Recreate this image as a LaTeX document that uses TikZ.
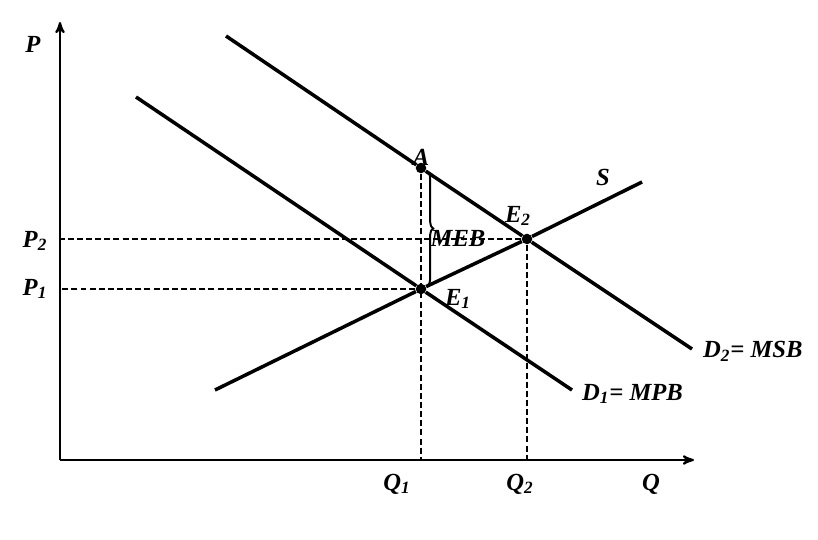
\documentclass[tikz,border=0pt]{standalone}
\usepackage{fontspec}
\setmainfont{Liberation Serif}
\usetikzlibrary{arrows,calc,decorations.pathreplacing}

\begin{document}
\begin{tikzpicture}[x=0.02cm,y=-0.02cm,>=stealth',
    curve/.style={line width=2pt},
    guide/.style={line width=0.6pt,dash pattern=on 3.4pt off 1.8pt},
    lbl/.style={font=\fontsize{14}{16}\selectfont\bfseries\itshape,inner sep=1pt},
    dot/.style={circle,fill=black,inner sep=0pt,minimum size=6pt}]
    \useasboundingbox (0,0) rectangle (818,540);
    \coordinate (O) at (60,460);
    \coordinate (ytop) at (60,22);
    \coordinate (xend) at (694,460);
    \draw[line width=1.2pt,->] (O) -- (ytop);
    \draw[line width=1.2pt,->] (O) -- (xend);
    % points
    \node[dot] (E1) at (421,289) {};
    \node[dot] (E2) at (527,239) {};
    \node[dot] (A) at (421,168) {};
    \coordinate (D1a) at (136,97);
    \coordinate (D1b) at (572,390);
    \coordinate (D2a) at (226,36);
    \coordinate (D2b) at (692,349);
    \coordinate (Sa) at (215,390);
    \coordinate (Sb) at (642,182);
    % guides
    \draw[guide] (A) -- (A |- O);
    \draw[guide] (E2) -- (E2 |- O);
    \draw[guide] (E1) -- (E1 -| O);
    \draw[guide] (E2) -- (E2 -| O);
    % curves
    \draw[curve] (D1a) -- (E1) -- (D1b);
    \draw[curve] (D2a) -- (A) -- (E2) -- (D2b);
    \draw[curve] (Sa) -- (E1) -- (E2) -- (Sb);
    \draw[line width=1.1pt,decorate,decoration={brace,amplitude=3.6pt}] ($(A)+(6,3)$) -- ($(E1)+(6,-3)$);
    % labels
    \node[lbl] (P) at (33,44) {P};
    \node[lbl] (P2) at (35,241) {P\textsubscript{2}};
    \node[lbl] (P1) at (35,289) {P\textsubscript{1}};
    \node[lbl] (Q1) at (397,484) {Q\textsubscript{1}};
    \node[lbl] (Q2) at (520,484) {Q\textsubscript{2}};
    \node[lbl] (Q) at (651,484) {Q};
    \node[lbl,above=0pt] (Alab) at (A) {A};
    \node[lbl] (E2lab) at (518,216) {E\textsubscript{2}};
    \node[lbl] (E1lab) at (458,299) {E\textsubscript{1}};
    \node[lbl] (MEB) at (458,238) {MEB};
    \node[lbl] (Slab) at (603,177) {S};
    \node[lbl,anchor=west] (D2lab) at (701,351) {D\textsubscript{2}= MSB};
    \node[lbl,anchor=west] (D1lab) at (580,394) {D\textsubscript{1}= MPB};
\end{tikzpicture}
\end{document}
